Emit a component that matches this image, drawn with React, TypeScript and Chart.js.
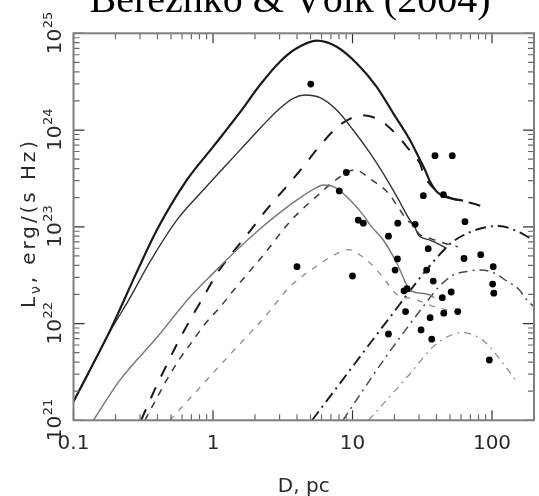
import React, { useEffect, useRef } from "react";
import { Chart, registerables } from "chart.js";

Chart.register(...registerables);

// ---- data (D in pc, L_nu in erg/(s Hz)) ----
const topSolidX = [0.1, 0.183, 0.284, 0.395, 0.648, 1.0, 1.56, 2.17, 3.02, 3.98, 5.54, 7.7, 10.7, 14.9, 19.6, 25.8, 30.5, 33.1, 36, 40.2, 46.1, 62];
const topSolidY = [1.56e21, 8.5e21, 3.4e22, 9.2e22, 3.03e23, 6.7e23, 1.52e24, 2.92e24, 5.09e24, 7.0e24, 8.4e24, 7.26e24, 4.9e24, 2.8e24, 1.49e24, 7.9e23, 4.9e23, 3.87e23, 2.92e23, 2.3e23, 2.05e23, 1.86e23];

const midSolidX = [0.1, 0.183, 0.254, 0.353, 0.55, 0.852, 1.56, 2.17, 3.02, 3.76, 4.56, 5.85, 7.7, 10.1, 13.4, 16.6, 20.8, 25.8, 27.6, 29.7, 36, 47.3];
const midSolidY = [1.56e21, 8.3e21, 1.84e22, 4.33e22, 1.17e23, 2.4e23, 6.2e23, 1.04e24, 1.68e24, 2.13e24, 2.3e24, 2.16e24, 1.61e24, 1.0e24, 5.75e23, 3.57e23, 2.05e23, 1.17e23, 1.04e23, 8.2e22, 7.3e22, 6.0e22];

const graySolidX = [0.1387, 0.215, 0.4, 0.684, 1.0, 1.48, 2.06, 2.86, 3.98, 5.24, 6.18, 7.7, 9.6, 11.96, 13.4, 16.6, 20.8, 25.1, 25.8, 36, 38.5];
const graySolidY = [1e21, 2.6e21, 7.3e21, 1.88e22, 3.3e22, 5.75e22, 8.9e22, 1.32e23, 1.89e23, 2.44e23, 2.7e23, 2.5e23, 1.89e23, 1.32e23, 1.04e23, 7.3e22, 4.2e22, 2.33e22, 2.22e22, 1.97e22, 1.85e22];

const longDashX = [0.305, 0.378, 0.46, 0.557, 0.69, 0.862, 1.08, 1.38, 1.87, 2.46, 3.28, 4.38, 5.75, 7.7, 9.5, 11.7, 15.7, 18.1, 21.9, 24.5, 28.1, 30.5, 32.2, 39.4, 50.5, 70.7, 90];
const longDashY = [1e21, 2.0e21, 3.6e21, 6.3e21, 1.11e22, 1.93e22, 3.37e22, 5.4e22, 9.3e22, 1.55e23, 2.5e23, 4.1e23, 6.7e23, 1.06e24, 1.3e24, 1.42e24, 1.27e24, 1.08e24, 8.2e23, 6.7e23, 5.3e23, 4.5e23, 3.55e23, 2.4e23, 1.98e23, 1.76e23, 1.59e23];

const midDashX = [0.325, 0.472, 0.57, 0.703, 0.876, 1.12, 1.41, 1.76, 2.27, 3.56, 4.56, 5.78, 7.58, 10.4, 13.5, 18.1, 21.5, 24.7, 27.6, 29.7, 36, 45, 57];
const midDashY = [1e21, 2.7e21, 4.2e21, 6.4e21, 9.9e21, 1.47e22, 2.22e22, 3.25e22, 4.99e22, 1.13e23, 1.61e23, 2.18e23, 3.05e23, 3.88e23, 3.1e23, 2.22e23, 1.55e23, 1.17e23, 1.04e23, 8.6e22, 7.6e22, 6.8e22, 6.2e22];

const lightDashX = [0.49, 0.807, 1.44, 2.36, 3.56, 5.92, 7.36, 9.3, 11.8, 14.5, 17.4, 21.0, 27.3, 38.4, 53, 58];
const lightDashY = [1e21, 2.19e21, 5.46e21, 1.18e22, 2.4e22, 4.2e22, 5.1e22, 5.8e22, 4.9e22, 3.75e22, 2.72e22, 1.97e22, 1.8e22, 1.5e22, 1.33e22, 1.3e22];

const dashDotBlackX = [5.13, 8.13, 17.4, 37.8, 51.6, 69.5, 90, 112, 154, 200];
const dashDotBlackY = [1e21, 2.41e21, 1.03e22, 4.33e22, 6.9e22, 8.8e22, 9.9e22, 1.02e23, 8.9e22, 7.2e22];

const dashDotDarkX = [8.52, 17.3, 33.5, 41.7, 52.8, 66, 79.4, 99.6, 130, 156, 182, 200];
const dashDotDarkY = [1e21, 4.5e21, 1.62e22, 2.4e22, 3.18e22, 3.45e22, 3.57e22, 3.41e22, 2.7e22, 2.25e22, 1.68e22, 1.5e22];

const dashDotLightX = [13.0, 25.4, 37.9, 48, 60.7, 86.7, 118.6, 152];
const dashDotLightY = [1e21, 2.94e21, 5.77e21, 7.3e21, 8.06e21, 6.65e21, 3.97e21, 2.45e21];

const dotX = [5.02, 9.03, 8.04, 11.0, 11.96, 4.0, 10.0, 39.0, 51.9, 32.2, 44.8, 21.1, 28.1, 64, 18.1, 34.9, 21.0, 63, 83, 102, 20.2, 34.0, 37.9, 101, 103, 23.4, 24.6, 51, 44, 24.0, 36.0, 45.1, 56.8, 18.1, 31.0, 37.0, 95.7];
const dotY = [2.99e24, 3.64e23, 2.35e23, 1.17e23, 1.09e23, 3.87e22, 3.1e22, 5.43e23, 5.43e23, 2.1e23, 2.15e23, 1.09e23, 1.06e23, 1.13e23, 8.0e22, 5.94e22, 4.65e22, 4.7e22, 5.15e22, 3.87e22, 3.57e22, 3.57e22, 2.75e22, 2.56e22, 2.06e22, 2.18e22, 2.29e22, 2.12e22, 1.85e22, 1.33e22, 1.15e22, 1.28e22, 1.33e22, 7.8e21, 8.6e21, 6.9e21, 4.2e21];

// ---- axes / text ----
const xMajor = [0.1, 1, 10, 100];
const xMajorLabels = ["0.1", "1", "10", "100"];
const yMajorExponents = [21, 22, 23, 24, 25];
const minorMultipliers = [2, 3, 4, 5, 6, 7, 8, 9];
const X_MIN = 0.1, X_MAX = 200, Y_MIN = 1e21, Y_MAX = 1e25;
const titleText = "Berezhko & Völk (2004)";
const xTitle = "D, pc";
const yTitleParts = [
  { t: "L", size: 20, dy: 0 },
  { t: "ν", size: 14, dy: 5 },
  { t: ", erg/(s Hz)", size: 20, dy: 0 },
];

const FONT = "'DejaVu Sans', sans-serif";

const pts = (xs: number[], ys: number[]) => xs.map((x, i) => ({ x, y: ys[i] }));

const lineDs = (label: string, xs: number[], ys: number[], color: string, width: number, dash: number[]) => ({
  label,
  data: pts(xs, ys),
  showLine: true,
  borderColor: color,
  backgroundColor: color,
  borderWidth: width,
  borderDash: dash,
  borderCapStyle: "butt",
  pointRadius: 0,
  pointHoverRadius: 0,
  cubicInterpolationMode: "monotone",
  order: 1,
});

const decor = {
  id: "decor",
  afterDatasetsDraw(chart: any) {
    const ctx = chart.ctx;
    const { left, right, top, bottom } = chart.chartArea;
    const xs = chart.scales.x, ys = chart.scales.y;
    ctx.save();

    // x ticks (bottom & top, inward)
    const xt: [number, boolean][] = [];
    xMajor.forEach((d) => {
      xt.push([d, true]);
      minorMultipliers.forEach((m) => {
        const v = m * d;
        if (v <= X_MAX * 1.0001) xt.push([v, false]);
      });
    });
    xt.forEach(([v, major]) => {
      const p = xs.getPixelForValue(v);
      const len = major ? 10 : 6;
      ctx.strokeStyle = major ? "#333" : "#6a6a6a";
      ctx.lineWidth = 1.2;
      ctx.beginPath();
      ctx.moveTo(p, bottom); ctx.lineTo(p, bottom - len);
      ctx.moveTo(p, top); ctx.lineTo(p, top + len);
      ctx.stroke();
    });

    // y ticks (left & right, inward)
    const yt: [number, boolean][] = [];
    yMajorExponents.forEach((e) => {
      const d = Math.pow(10, e);
      yt.push([d, true]);
      if (e < 25) minorMultipliers.forEach((m) => yt.push([m * d, false]));
    });
    yt.forEach(([v, major]) => {
      const p = ys.getPixelForValue(v);
      const len = major ? 11 : 6;
      ctx.strokeStyle = major ? "#333" : "#6a6a6a";
      ctx.lineWidth = 1.2;
      ctx.beginPath();
      ctx.moveTo(left, p); ctx.lineTo(left + len, p);
      ctx.moveTo(right, p); ctx.lineTo(right - len, p);
      ctx.stroke();
    });

    // frame
    ctx.strokeStyle = "#7f7f7f";
    ctx.lineWidth = 2;
    ctx.strokeRect(left, top, right - left, bottom - top);

    // x tick labels
    ctx.fillStyle = "#2a2a2a";
    ctx.font = `20px ${FONT}`;
    ctx.textAlign = "center";
    ctx.textBaseline = "alphabetic";
    xMajor.forEach((v, i) => ctx.fillText(xMajorLabels[i], xs.getPixelForValue(v), 449));

    // y tick labels (rotated, 10^e)
    yMajorExponents.forEach((e) => {
      const p = ys.getPixelForValue(Math.pow(10, e));
      ctx.save();
      ctx.translate(61, p);
      ctx.rotate(-Math.PI / 2);
      ctx.textAlign = "left";
      ctx.font = `20px ${FONT}`;
      const w1 = ctx.measureText("10").width;
      ctx.font = `13px ${FONT}`;
      const w2 = ctx.measureText(String(e)).width;
      const x0 = -(w1 + w2) / 2;
      ctx.font = `20px ${FONT}`;
      ctx.fillText("10", x0, 0);
      ctx.font = `13px ${FONT}`;
      ctx.fillText(String(e), x0 + w1 + 0.5, -9);
      ctx.restore();
    });

    // y title (rotated)
    ctx.save();
    ctx.translate(35, 223);
    ctx.rotate(-Math.PI / 2);
    ctx.textAlign = "left";
    (ctx as any).letterSpacing = "0px";
    let w0 = 0, n = 0;
    yTitleParts.forEach((pt) => {
      ctx.font = `${pt.size}px ${FONT}`;
      w0 += ctx.measureText(pt.t).width;
      n += pt.t.length;
    });
    const sp = Math.max(0, (170 - w0) / n);
    (ctx as any).letterSpacing = `${sp}px`;
    let tw = 0;
    yTitleParts.forEach((pt) => {
      ctx.font = `${pt.size}px ${FONT}`;
      tw += ctx.measureText(pt.t).width;
    });
    let cx = -tw / 2;
    yTitleParts.forEach((pt) => {
      ctx.font = `${pt.size}px ${FONT}`;
      ctx.fillText(pt.t, cx, pt.dy);
      cx += ctx.measureText(pt.t).width;
    });
    (ctx as any).letterSpacing = "0px";
    ctx.restore();

    // x title
    ctx.font = `20px ${FONT}`;
    ctx.textAlign = "center";
    ctx.fillText(xTitle, (left + right) / 2, 492);

    // main title (partly clipped at top)
    ctx.fillStyle = "#000";
    ctx.font = "40px 'Liberation Serif', 'Times New Roman', serif";
    ctx.textAlign = "center";
    ctx.fillText(titleText, 290, 12);

    ctx.restore();
  },
};

export default function App() {
  const ref = useRef<HTMLCanvasElement | null>(null);
  useEffect(() => {
    if (!ref.current) return;
    const chart = new Chart(ref.current, {
      type: "scatter",
      data: {
        datasets: [
          {
            label: "observed",
            data: pts(dotX, dotY),
            showLine: false,
            pointRadius: 3.4,
            pointHoverRadius: 3.4,
            pointBackgroundColor: "#000",
            pointBorderColor: "#000",
            pointBorderWidth: 0,
            order: 0,
          } as any,
          lineDs("top", topSolidX, topSolidY, "#1a1a1a", 2.2, []),
          lineDs("mid", midSolidX, midSolidY, "#333333", 1.4, []),
          lineDs("gray", graySolidX, graySolidY, "#7a7a7a", 1.5, []),
          lineDs("longDash", longDashX, longDashY, "#1a1a1a", 2, [12, 12]),
          lineDs("midDash", midDashX, midDashY, "#3a3a3a", 1.5, [7, 7]),
          lineDs("lightDash", lightDashX, lightDashY, "#8a8a8a", 1.3, [6, 7]),
          lineDs("dashDotBlack", dashDotBlackX, dashDotBlackY, "#1a1a1a", 1.9, [11, 5, 2, 5]),
          lineDs("dashDotDark", dashDotDarkX, dashDotDarkY, "#4a4a4a", 1.5, [9, 5, 2, 5]),
          lineDs("dashDotLight", dashDotLightX, dashDotLightY, "#8a8a8a", 1.2, [7, 5, 2, 5]),
        ] as any,
      },
      options: {
        responsive: false,
        animation: false,
        devicePixelRatio: 1,
        events: [],
        layout: { padding: { left: 73.5, top: 33.3, right: 5, bottom: 75.7 } },
        scales: {
          x: { type: "logarithmic", min: X_MIN, max: X_MAX, display: false },
          y: { type: "logarithmic", min: Y_MIN, max: Y_MAX, display: false },
        },
        plugins: {
          legend: { display: false },
          tooltip: { enabled: false },
          title: { display: false },
        },
      } as any,
      plugins: [decor],
    });
    return () => chart.destroy();
  }, []);

  return (
    <div style={{ position: "absolute", left: 0, top: 0, width: 539, height: 496, background: "#fff" }}>
      <canvas ref={ref} width={539} height={496} style={{ display: "block" }} />
    </div>
  );
}
